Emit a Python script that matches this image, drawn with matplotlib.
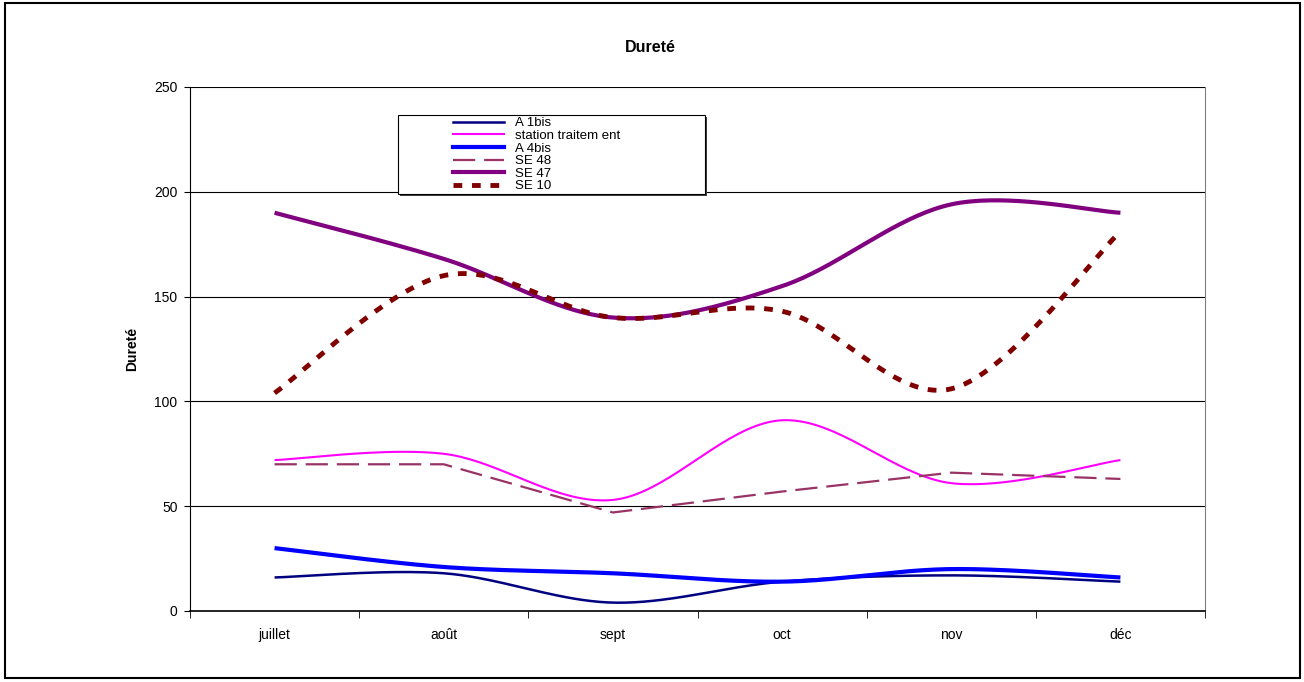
import numpy as np
import matplotlib
matplotlib.use('Agg')
import matplotlib.pyplot as plt
from matplotlib.patches import Rectangle
from matplotlib.lines import Line2D

plt.rcParams['font.family'] = ['Liberation Sans', 'DejaVu Sans']

# données
mois = ['juillet', 'août', 'sept', 'oct', 'nov', 'déc']
a1bis = [16, 18, 4, 14, 17, 14]
station = [72, 75, 53, 91, 61, 72]
a4bis = [30, 21, 18, 14, 20, 16]
se48 = [70, 70, 47, 57, 66, 63]
se47 = [190, 168, 140, 155, 194, 190]
se10 = [104, 160, 140, 143, 106, 181]


def lisser(y, n=40):
    """courbe lissée façon Excel (Catmull-Rom / Bezier)"""
    y = np.asarray(y, dtype=float)
    x = np.arange(len(y), dtype=float)
    px = np.concatenate([[x[0]], x, [x[-1]]])
    py = np.concatenate([[y[0]], y, [y[-1]]])
    xs, ys = [], []
    t = np.linspace(0, 1, n)
    for i in range(1, len(px) - 2):
        p0, p1, p2, p3 = px[i - 1], px[i], px[i + 1], px[i + 2]
        q0, q1, q2, q3 = py[i - 1], py[i], py[i + 1], py[i + 2]
        c1x, c1y = p1 + (p2 - p0) / 6, q1 + (q2 - q0) / 6
        c2x, c2y = p2 - (p3 - p1) / 6, q2 - (q3 - q1) / 6
        bx = (1 - t)**3 * p1 + 3 * (1 - t)**2 * t * c1x + 3 * (1 - t) * t**2 * c2x + t**3 * p2
        by = (1 - t)**3 * q1 + 3 * (1 - t)**2 * t * c1y + 3 * (1 - t) * t**2 * c2y + t**3 * q2
        xs.extend(bx)
        ys.extend(by)
    return np.array(xs), np.array(ys)


fig = plt.figure(figsize=(13.04, 6.82), dpi=100)
ax = fig.add_axes([190 / 1304, 71 / 682, 1015 / 1304, 524 / 682])

series = [
    ('A 1bis', a1bis, '#000080', 1.8, '-', True),
    ('station traitem ent', station, '#FF00FF', 1.5, '-', True),
    ('A 4bis', a4bis, '#0000FF', 3.0, '-', True),
    ('SE 48', se48, '#993366', 1.6, (0, (10, 4)), False),
    ('SE 47', se47, '#800080', 3.0, '-', True),
    ('SE 10', se10, '#800000', 3.5, (0, (1.8, 2.0)), True),
]

handles = []
for nom, vals, col, lw, ls, smooth in series:
    if smooth:
        xx, yy = lisser(vals)
    else:
        xx, yy = np.arange(len(vals)), vals
    ax.plot(xx, yy, color=col, lw=lw, ls=ls, solid_capstyle='butt', zorder=3)
    handles.append(Line2D([], [], color=col, lw=lw, ls=ls))

ax.set_xlim(-0.5, 5.5)
ax.set_ylim(0, 250)
ax.set_yticks([0, 50, 100, 150, 200, 250])
ax.yaxis.grid(True, color='black', lw=0.8)
ax.set_axisbelow(True)

ax.set_xticks(range(len(mois)))
ax.set_xticklabels(mois, fontsize=10)
ax.set_xticks(np.arange(-0.5, 6, 1), minor=True)
ax.tick_params(axis='x', which='major', length=0, pad=12)
ax.tick_params(axis='x', which='minor', length=5, direction='out', color='black')
ax.tick_params(axis='y', length=4, direction='out', labelsize=10, pad=5)

ax.spines['top'].set_visible(False)
ax.spines['right'].set_color('#808080')
ax.spines['left'].set_color('black')
ax.spines['bottom'].set_color('black')
ax.spines['bottom'].set_linewidth(1.2)

ax.set_ylabel('Dureté', fontsize=10, fontweight='bold', labelpad=11)
fig.text(0.5 - 2 / 1304, 1 - 48 / 682, 'Dureté', ha='center', va='center',
         fontsize=11.5, fontweight='bold')

# cadre de la légende avec ombre
fig.patches.append(Rectangle((400 / 1304, (682 - 196) / 682), 307 / 1304, 79 / 682,
                             transform=fig.transFigure, facecolor='#404040',
                             edgecolor='none', zorder=4))
fig.patches.append(Rectangle((398 / 1304, (682 - 194) / 682), 307 / 1304, 79 / 682,
                             transform=fig.transFigure, facecolor='white',
                             edgecolor='black', lw=0.8, zorder=5))
leg = fig.legend(handles, [s[0] for s in series], loc='upper left',
                 bbox_to_anchor=(453 / 1304, 1 - 117 / 682), frameon=False,
                 fontsize=9.5, labelspacing=0.03, handlelength=3.9,
                 handletextpad=0.8, borderpad=0, borderaxespad=0)
leg.set_zorder(6)

# cadre extérieur
fig.patches.append(Rectangle((5 / 1304, 4 / 682), 1295 / 1304, 675 / 682,
                             transform=fig.transFigure, facecolor='none',
                             edgecolor='black', lw=1.5, zorder=1))

fig.savefig('out.png', dpi=100)
